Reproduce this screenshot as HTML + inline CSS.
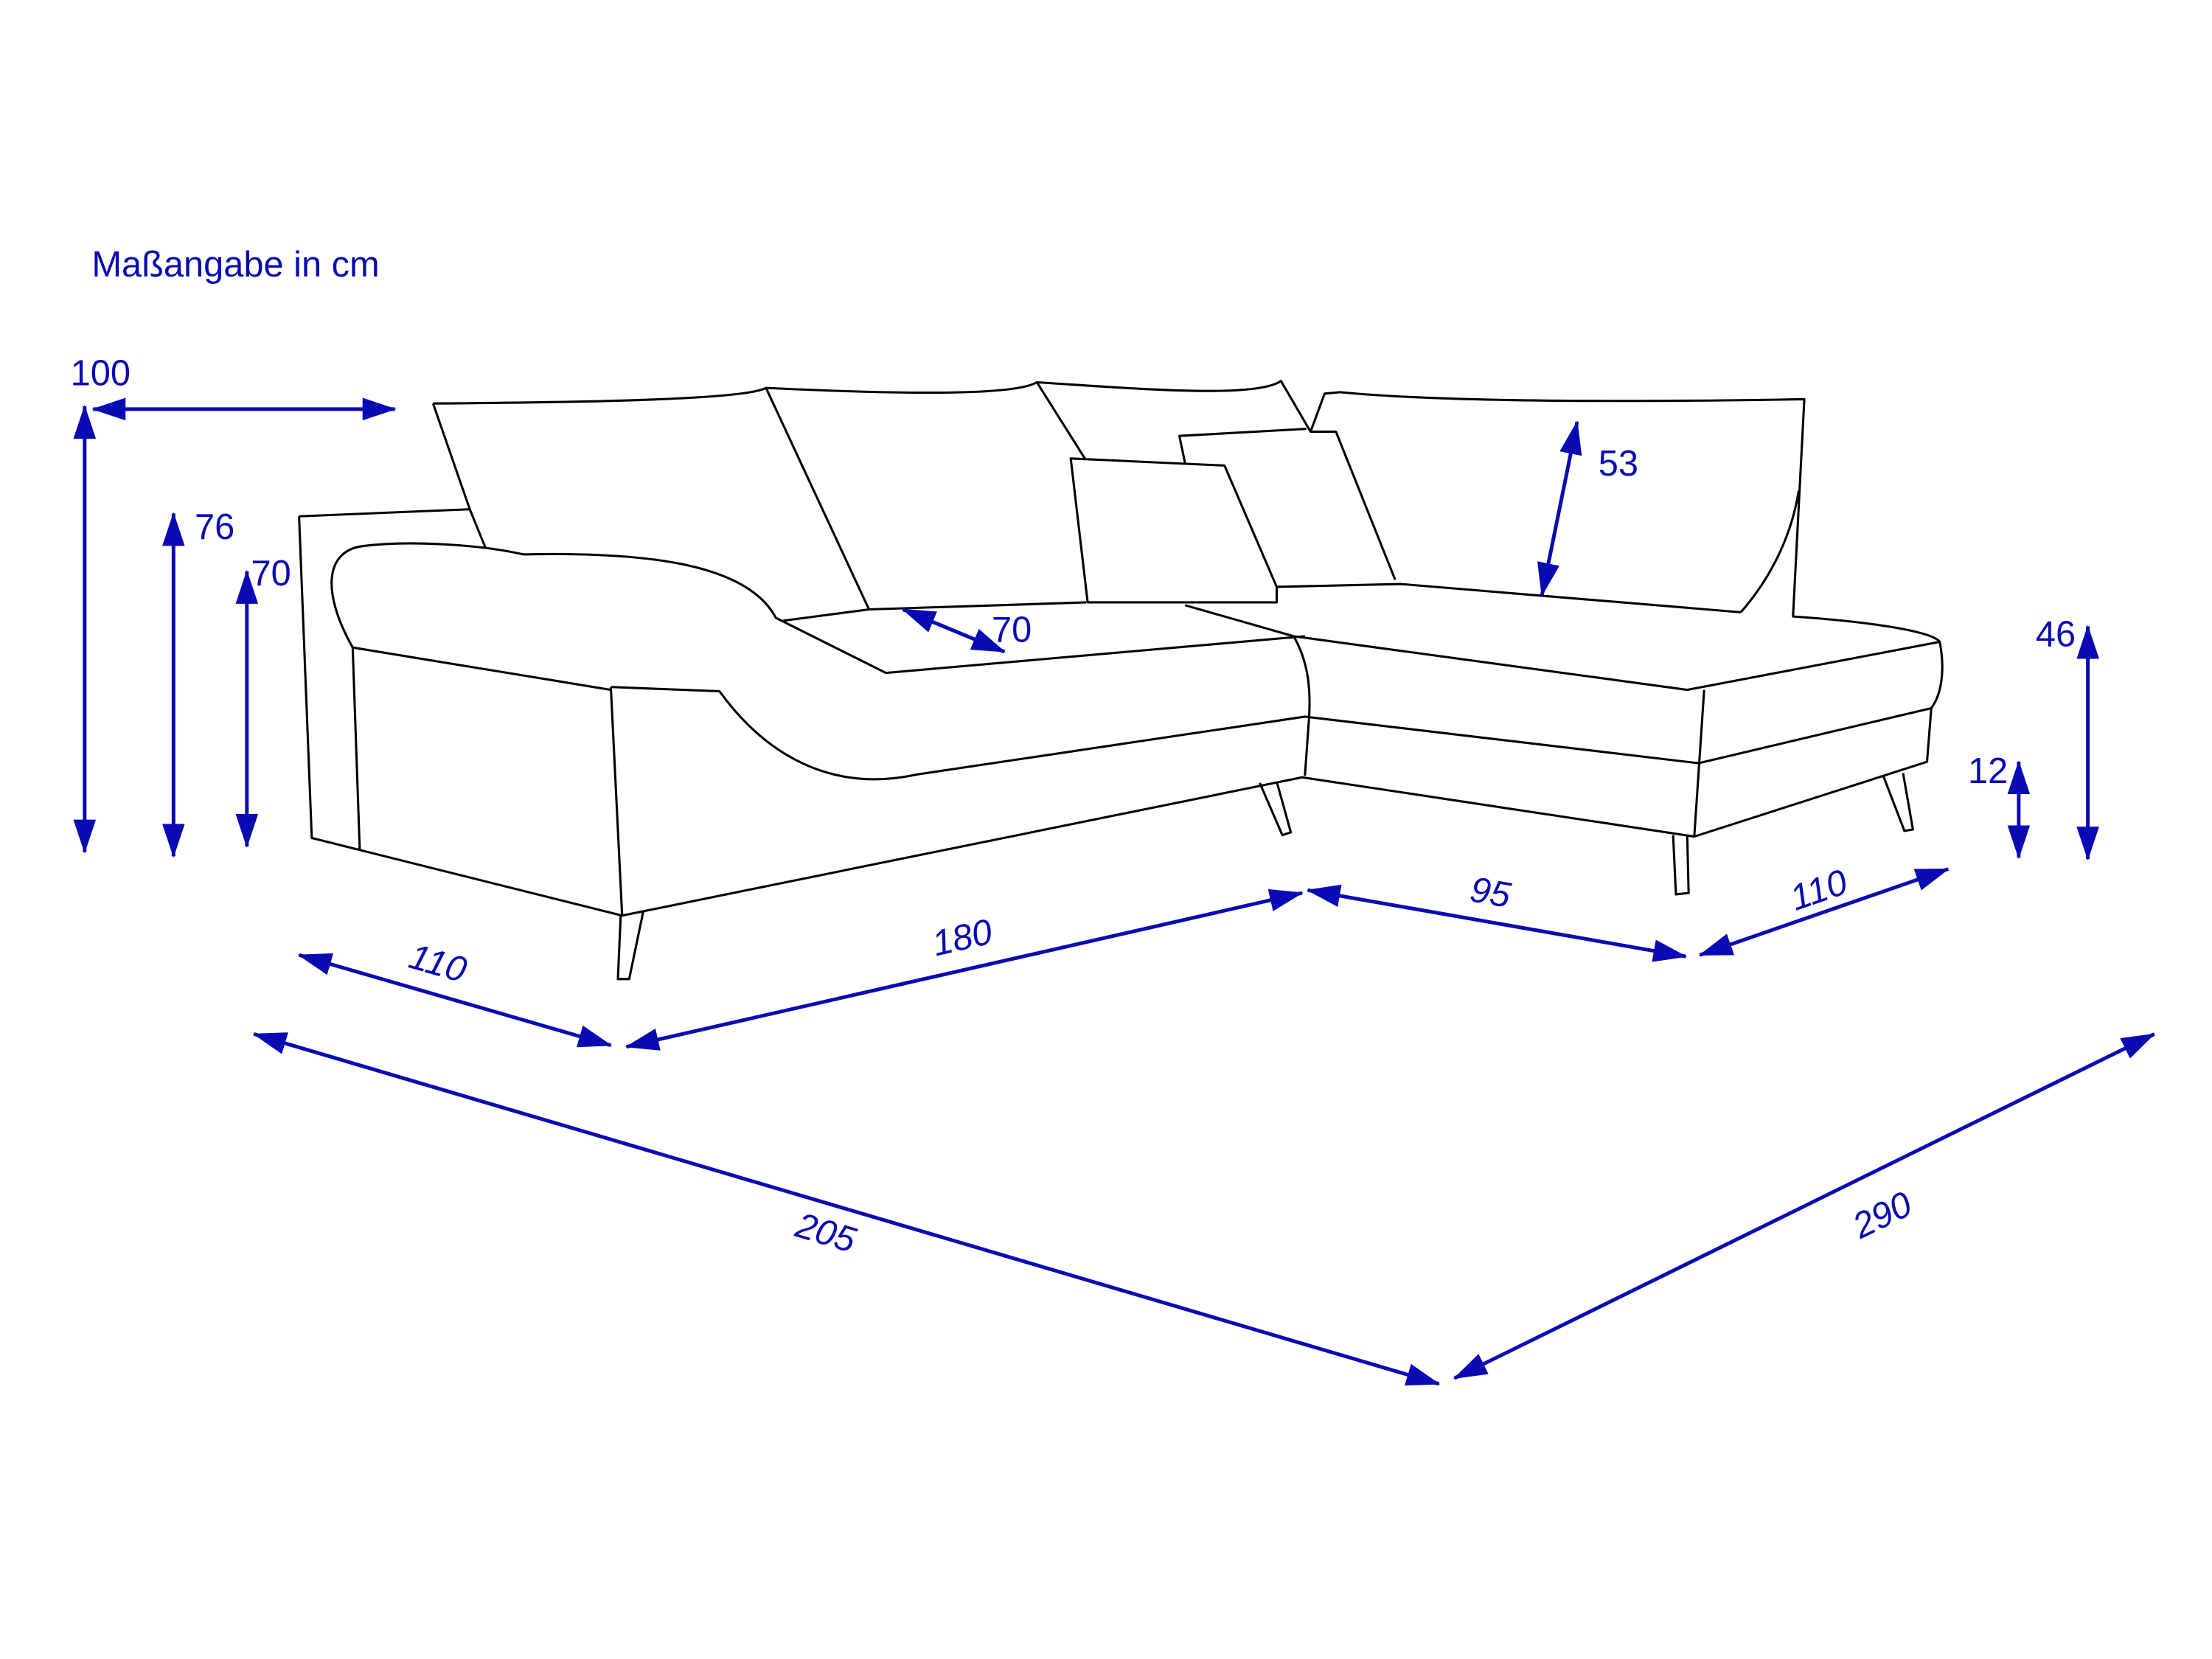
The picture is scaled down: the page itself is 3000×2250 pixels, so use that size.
<!DOCTYPE html>
<html><head><meta charset="utf-8"><style>html,body{margin:0;padding:0;background:#fff}svg{display:block}</style></head>
<body>
<svg xmlns="http://www.w3.org/2000/svg" width="3000" height="2250" viewBox="0 0 1568 1176">
<defs>
<marker id="a" viewBox="0 0 24 16" refX="23" refY="8" markerWidth="24" markerHeight="16" markerUnits="userSpaceOnUse" orient="auto-start-reverse">
<path d="M0,0 L24,8 L0,16 Z" fill="#0a0ab4"/></marker>
</defs>
<g fill="none" stroke="#000" stroke-width="1.6" stroke-linejoin="round">
<path d="M307,286 C450,285 530,282 543,275 C650,280 720,280 735,271 C800,275 890,283 908,270 L929,306 L947,306 L989,411"/>
<path d="M307,286 L333,361 L344,388"/>
<path d="M212,366 L333,361"/>
<path d="M212,366 L221,594 L441,649 L923,551 L1201,593 L1366,540 L1369,502 C1378,490 1378,470 1375,455 C1370,448 1330,441 1271,437 L1279,283 C1100,286 1000,283 950,278 L939,279 L929,306"/>
<path d="M371,393 C340,386 290,383 258,387 C230,390 228,420 250,459 L433,489"/>
<path d="M371,393 C460,391 530,400 550,438 L628,477 L925,451"/>
<path d="M250,459 L255,602"/>
<path d="M433,487 L510,490 C550,545 600,560 650,549 L925,508 L1204,541 L1369,502"/>
<path d="M433,487 L441,649"/>
<path d="M440,649 L438,694 L446,694 L456,646"/>
<path d="M555,440 L616,432 L770,427"/>
<path d="M543,275 L616,432"/>
<path d="M735,271 L769,325"/>
<path d="M759,325 L868,330 L905,416 L905,427 L771,427 Z"/>
<path d="M840,328 L836,309 L926,304"/>
<path d="M905,416 L993,414 L1234,434"/>
<path d="M840,429 L917,451 L1196,489 L1375,455"/>
<path d="M1234,434 C1255,410 1270,380 1275,348"/>
<path d="M1208,489 L1201,593"/>
<path d="M917,451 C928,470 929,490 928,508 L925,550"/>
<path d="M893,555 L909,592 L915,590 L905,554"/>
<path d="M1186,592 L1188,634 L1197,633 L1196,592"/>
<path d="M1335,550 L1350,589 L1356,588 L1349,548"/>
</g>
<g stroke="#0a0ab4" stroke-width="2.6" fill="none" marker-start="url(#a)" marker-end="url(#a)">
<line x1="60" y1="288" x2="60" y2="604"/>
<line x1="66" y1="290" x2="280" y2="290"/>
<line x1="123" y1="364" x2="123" y2="607"/>
<line x1="175" y1="405" x2="175" y2="600"/>
<line x1="640" y1="432" x2="712" y2="462"/>
<line x1="1118" y1="299" x2="1093" y2="422"/>
<line x1="1480" y1="444" x2="1480" y2="609"/>
<line x1="1431" y1="540" x2="1431" y2="608"/>
<line x1="212" y1="677" x2="433" y2="741"/>
<line x1="444" y1="742" x2="923" y2="633"/>
<line x1="927" y1="631" x2="1195" y2="678"/>
<line x1="1205" y1="677" x2="1381" y2="616"/>
<line x1="180" y1="733" x2="1020" y2="981"/>
<line x1="1031" y1="977" x2="1527" y2="733"/>
</g>
<g fill="#0a0ab4" font-family="Liberation Sans, sans-serif" font-size="25.5">
<text x="65" y="196">Maßangabe in cm</text>
<text x="50" y="273">100</text>
<text x="138" y="382">76</text>
<text x="178" y="415">70</text>
<text x="703" y="455">70</text>
<text x="1133" y="337">53</text>
<text x="1443" y="458">46</text>
<text x="1395" y="555">12</text>
<g font-style="italic" text-anchor="middle">
<text transform="translate(308,691) rotate(16)">110</text>
<text transform="translate(684,673) rotate(-13)">180</text>
<text transform="translate(1055,641) rotate(10)">95</text>
<text transform="translate(1292,639) rotate(-19)">110</text>
<text transform="translate(583,882) rotate(16.5)">205</text>
<text transform="translate(1338,869) rotate(-26)">290</text>
</g>
</g>
</svg>
</body></html>
